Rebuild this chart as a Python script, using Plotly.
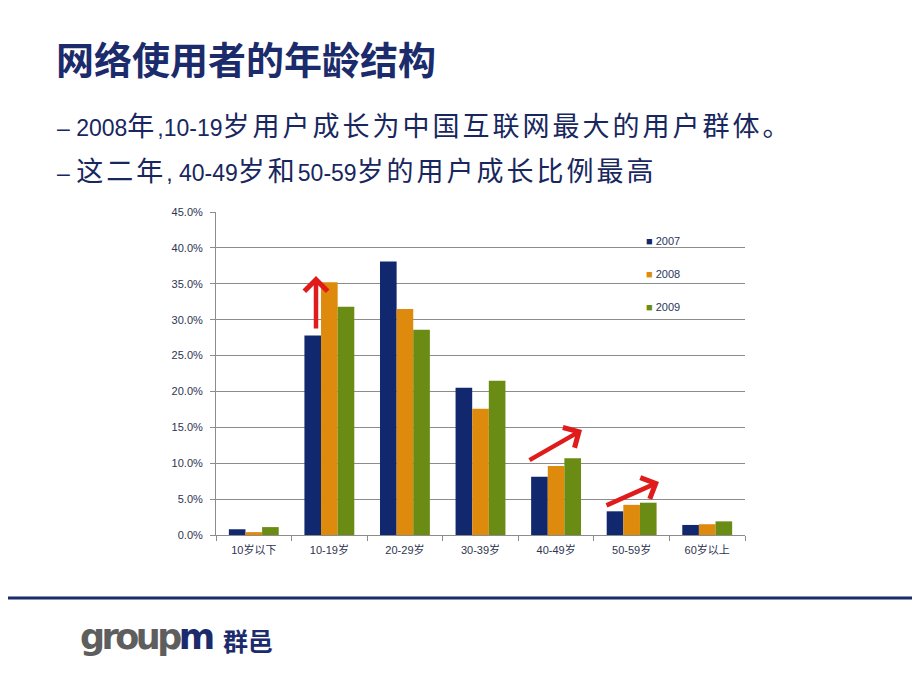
import plotly.graph_objects as go

# age groups and share of users per year
ages = ["10岁以下", "10-19岁", "20-29岁", "30-39岁", "40-49岁", "50-59岁", "60岁以上"]
y2007 = [0.008, 0.278, 0.381, 0.205, 0.081, 0.033, 0.014]
y2008 = [0.004, 0.352, 0.315, 0.176, 0.096, 0.042, 0.015]
y2009 = [0.011, 0.318, 0.286, 0.215, 0.107, 0.045, 0.019]
years = ["2007", "2008", "2009"]
colors = ["#12286E", "#DE8A0C", "#6B8C14"]

title = "网络使用者的年龄结构"
bullets = ["– 2008年,10-19岁用户成长为中国互联网最大的用户群体。",
           "– 这二年, 40-49岁和50-59岁的用户成长比例最高"]

# page has an 8px body margin, so the figure is 8px smaller than the window
OFF = 8
W, H = 920 - OFF, 690 - OFF
L, R, T, B = 216 - OFF, 175, 212 - OFF, 155
pw, ph = W - L - R, H - T - B


def px(x):
    # page pixel -> paper x
    return (x - OFF - L) / pw


def py(y):
    return (H - B - (y - OFF)) / ph


def mix(s, size):
    # wrap runs of CJK characters in larger spans (their pitch is wider in the slide)
    span = "<span style='font-size:%dpx;letter-spacing:3px'>%s</span>"
    out, run = "", ""
    for ch in s:
        if ord(ch) > 0x2E80:
            run += ch
        else:
            if run:
                out += span % (size, run)
                run = ""
            out += ch
    if run:
        out += span % (size, run)
    return out


fig = go.Figure()
for name, vals, c in zip(years, [y2007, y2008, y2009], colors):
    fig.add_trace(go.Bar(
        x=ages, y=vals, name=name, marker_color=c,
        marker_line_width=0, showlegend=False
    ))

ann = [
    dict(text="<b>" + title + "</b>", x=px(54), y=py(57), xanchor="left", yanchor="middle",
         font=dict(size=38, color="#1B2B6B", family="Noto Sans CJK SC")),
    dict(text=mix(bullets[0], 27), x=px(55), y=py(127), xanchor="left", yanchor="middle",
         font=dict(size=23, color="#18275E", family="Liberation Sans, Noto Sans CJK SC")),
    dict(text=mix(bullets[1], 27), x=px(55), y=py(172), xanchor="left", yanchor="middle",
         font=dict(size=23, color="#18275E", family="Liberation Sans, Noto Sans CJK SC")),
    dict(text="<span style='letter-spacing:-3.5px'><span style='color:#5E5E5E'>group</span>"
              "<span style='color:#1B2B6B'>m</span></span>",
         x=px(78), y=py(637), xanchor="left", yanchor="middle",
         font=dict(size=35, family="DejaVu Sans", weight="bold")),
    dict(text="群邑", x=px(221), y=py(640), xanchor="left", yanchor="middle",
         font=dict(size=25, color="#1B2B6B", family="Noto Sans CJK SC", weight="bold")),
]

# legend drawn as small coloured squares next to the year
leg_y = [241, 274, 307]
for name, c, yy in zip(years, colors, leg_y):
    ann.append(dict(text="<span style='color:%s'>■</span> %s" % (c, name), x=px(644), y=py(yy),
                    xanchor="left", yanchor="middle",
                    font=dict(size=11, color="#2A3560", family="Liberation Sans, DejaVu Sans")))

for a in ann:
    a.update(xref="paper", yref="paper", showarrow=False)

# red arrows (tail -> head, page pixels)
arrows = [((316, 330), (316, 276)), ((528, 461), (582, 430)), ((605, 506), (659, 482))]
for (x0, y0), (x1, y1) in arrows:
    ann.append(dict(x=px(x1), y=py(y1), ax=x0 - x1, ay=y0 - y1, xref="paper", yref="paper",
                    axref="pixel", ayref="pixel", showarrow=True, arrowhead=4,
                    arrowsize=1, arrowwidth=4.5, arrowcolor="#E01B1B", text=""))

fig.update_layout(
    width=W, height=H,
    margin=dict(l=L, r=R, t=T, b=B),
    paper_bgcolor="white", plot_bgcolor="white",
    barmode="group", bargap=0.34, bargroupgap=0,
    font=dict(family="Liberation Sans, Noto Sans CJK SC", size=11, color="#2E3450"),
    showlegend=False,
    annotations=ann,
    shapes=[dict(type="line", xref="paper", yref="paper", x0=px(0), x1=px(920),
                 y0=py(598), y1=py(598), line=dict(color="#1B2B6B", width=3))],
    xaxis=dict(showline=True, linecolor="#8C8C8C", ticks="outside", tickson="boundaries",
               ticklen=5, tickcolor="#8C8C8C", tickfont=dict(size=11), ticklabelstandoff=5),
    yaxis=dict(range=[0, 0.45], dtick=0.05, tickformat=".1%", showgrid=True,
               gridcolor="#8C8C8C", gridwidth=1, showline=True, linecolor="#8C8C8C",
               ticks="outside", ticklen=5, tickcolor="#8C8C8C", zeroline=False,
               ticklabelstandoff=5),
)

fig.write_html("out.html")
